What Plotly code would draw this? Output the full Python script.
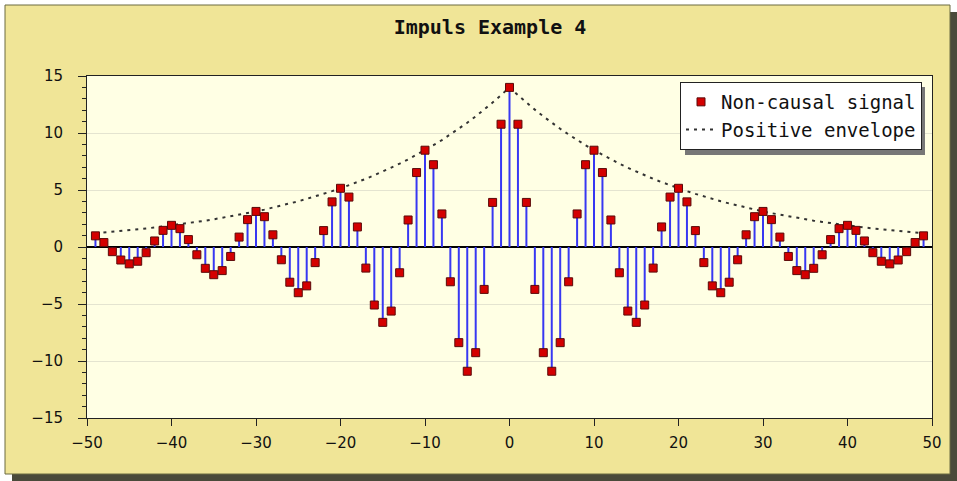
import plotly.graph_objects as go

# ---------------- data ----------------
x_vals = list(range(-49, 50))

signal = [
    0.98, 0.39, -0.41, -1.14, -1.48, -1.25, -0.50, 0.53, 1.46, 1.90,
    1.61, 0.65, -0.68, -1.87, -2.43, -2.07, -0.83, 0.87, 2.40, 3.12,
    2.66, 1.07, -1.12, -3.09, -4.01, -3.41, -1.37, 1.44, 3.96, 5.15,
    4.38, 1.76, -1.85, -5.09, -6.61, -5.62, -2.26, 2.37, 6.53, 8.49,
    7.22, 2.90, -3.05, -8.39, -10.90, -9.27, -3.72, 3.91, 10.77,
    14.00,
    10.77, 3.91, -3.72, -9.27, -10.90, -8.39, -3.05, 2.90, 7.22,
    8.49, 6.53, 2.37, -2.26, -5.62, -6.61, -5.09, -1.85, 1.76, 4.38,
    5.15, 3.96, 1.44, -1.37, -3.41, -4.01, -3.09, -1.12, 1.07, 2.66,
    3.12, 2.40, 0.87, -0.83, -2.07, -2.43, -1.87, -0.68, 0.65, 1.61,
    1.90, 1.46, 0.53, -0.50, -1.25, -1.48, -1.14, -0.41, 0.39, 0.98,
]

envelope = [
    1.21, 1.27, 1.34, 1.40, 1.48, 1.55, 1.63, 1.71, 1.80, 1.89,
    1.99, 2.09, 2.20, 2.31, 2.43, 2.56, 2.69, 2.83, 2.97, 3.12,
    3.28, 3.45, 3.63, 3.82, 4.01, 4.22, 4.43, 4.66, 4.90, 5.15,
    5.41, 5.69, 5.98, 6.29, 6.61, 6.95, 7.31, 7.68, 8.08, 8.49,
    8.93, 9.38, 9.87, 10.37, 10.90, 11.46, 12.05, 12.67, 13.32,
    14.00,
    13.32, 12.67, 12.05, 11.46, 10.90, 10.37, 9.87, 9.38, 8.93,
    8.49, 8.08, 7.68, 7.31, 6.95, 6.61, 6.29, 5.98, 5.69, 5.41,
    5.15, 4.90, 4.66, 4.43, 4.22, 4.01, 3.82, 3.63, 3.45, 3.28,
    3.12, 2.97, 2.83, 2.69, 2.56, 2.43, 2.31, 2.20, 2.09, 1.99,
    1.89, 1.80, 1.71, 1.63, 1.55, 1.48, 1.40, 1.34, 1.27, 1.21,
]

x_ticks = [-50, -40, -30, -20, -10, 0, 10, 20, 30, 40, 50]
y_ticks = [-15, -10, -5, 0, 5, 10, 15]

title_text = "Impuls Example 4"
signal_name = "Non-causal signal"
envelope_name = "Positive envelope"

# ---------------- layout geometry ----------------
W, H = 957, 481
ML, MR, MT, MB = 87, 25, 76, 63
PW, PH = W - ML - MR, H - MT - MB


def px(xp):
    return (xp - ML) / PW


def py(yp):
    return (H - MB - yp) / PH


# stems built from the data
stem_x, stem_y = [], []
for xv, yv in zip(x_vals, signal):
    stem_x += [xv, xv, None]
    stem_y += [0, yv, None]

fig = go.Figure()

fig.add_trace(go.Scatter(
    x=stem_x, y=stem_y, mode="lines",
    line=dict(color="#3838F2", width=2),
    showlegend=False, hoverinfo="skip",
))

fig.add_trace(go.Scatter(
    x=x_vals, y=envelope, mode="lines", name=envelope_name,
    line=dict(color="#333333", width=2, dash="3px,5px"),
    legendgroup="b", legendrank=2,
))

fig.add_trace(go.Scatter(
    x=x_vals, y=signal, mode="markers", name=signal_name,
    marker=dict(symbol="square", size=8, color="#D40000",
                line=dict(color="#5A0A0A", width=1)),
    legendgroup="a", legendrank=1,
))

shapes = [
    # white outer edges
    dict(type="rect", xref="paper", yref="paper", x0=px(0), x1=px(W), y0=py(0), y1=py(5),
         fillcolor="white", line=dict(width=0)),
    dict(type="rect", xref="paper", yref="paper", x0=px(0), x1=px(5), y0=py(0), y1=py(H),
         fillcolor="white", line=dict(width=0)),
    # shadow
    dict(type="rect", xref="paper", yref="paper", x0=px(950), x1=px(W), y0=py(12), y1=py(H),
         fillcolor="#4a4a3a", line=dict(width=0)),
    dict(type="rect", xref="paper", yref="paper", x0=px(12), x1=px(W), y0=py(474), y1=py(H),
         fillcolor="#4a4a3a", line=dict(width=0)),
    dict(type="rect", xref="paper", yref="paper", x0=px(950), x1=px(W), y0=py(0), y1=py(12),
         fillcolor="white", line=dict(width=0)),
    dict(type="rect", xref="paper", yref="paper", x0=px(0), x1=px(12), y0=py(474), y1=py(H),
         fillcolor="white", line=dict(width=0)),
    # frame border
    dict(type="rect", xref="paper", yref="paper", x0=px(5), x1=px(950), y0=py(5), y1=py(474),
         fillcolor="rgba(0,0,0,0)", line=dict(color="#6a6a40", width=1)),
    # legend shadow
    dict(type="rect", xref="paper", yref="paper", x0=px(685), x1=px(925), y0=py(87), y1=py(155),
         fillcolor="#777777", line=dict(width=0), layer="above"),
]

fig.update_layout(
    width=W, height=H, autosize=False,
    margin=dict(l=ML, r=MR, t=MT, b=MB, pad=0),
    paper_bgcolor="#F0E597",
    plot_bgcolor="#FFFFE4",
    title=dict(text=title_text, x=px(490), xref="paper", xanchor="center",
               y=1 - 27 / H, yref="container", yanchor="middle",
               font=dict(family="DejaVu Sans Mono", size=20, color="#111111", weight="bold")),
    font=dict(family="DejaVu Sans", size=15, color="#111111"),
    showlegend=True,
    legend=dict(x=px(922), y=py(82), xanchor="right", yanchor="top",
                bgcolor="white", bordercolor="#222222", borderwidth=1,
                font=dict(family="DejaVu Sans Mono", size=19, color="#111111"),
                traceorder="grouped", tracegroupgap=0, itemwidth=30),
    shapes=shapes,
    xaxis=dict(range=[-50, 50], tickvals=x_ticks, ticks="outside", ticklen=7,
               tickcolor="#222222", showline=True, linecolor="#222222", linewidth=1,
               mirror=True, showgrid=False, zeroline=False,
               ticklabelstandoff=4,
               tickfont=dict(family="DejaVu Sans", size=15, color="#111111")),
    yaxis=dict(range=[-15, 15], tickvals=y_ticks, ticks="outside", ticklen=8,
               tickcolor="#222222", showline=True, linecolor="#222222", linewidth=1,
               mirror=True, showgrid=True, gridcolor="#E4E4D0", gridwidth=1,
               zeroline=True, zerolinecolor="#000000", zerolinewidth=2,
               ticklabelstandoff=12,
               minor=dict(ticks="outside", ticklen=4, dtick=1, tickcolor="#222222",
                          showgrid=False),
               tickfont=dict(family="DejaVu Sans", size=15, color="#111111")),
)

fig.write_html("out.html", config={"displayModeBar": False},
               post_script="document.body.style.margin='0px';")
